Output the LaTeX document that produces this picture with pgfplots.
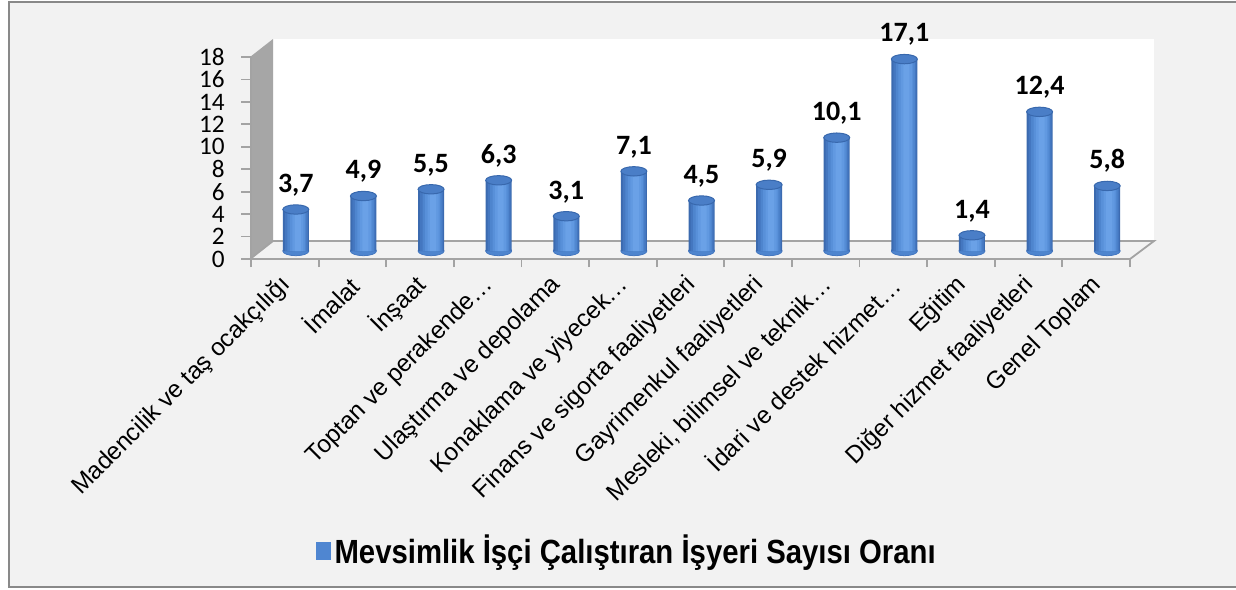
\documentclass[border=0pt]{standalone}
\usepackage{pgfplots}
\usepackage{pgfplotstable}
\pgfplotsset{compat=1.18}
\usepackage{fontspec}
\setmainfont{Liberation Sans}
\newfontfamily\calibri{Carlito}
\newfontfamily\legfont[FakeStretch=0.875]{Liberation Sans}
\definecolor{bg}{HTML}{F2F2F2}
\definecolor{frame}{HTML}{898989}
\definecolor{axgray}{HTML}{A3A3A3}
\definecolor{wallgray}{HTML}{A6A6A6}
\definecolor{cA}{HTML}{3B6AAF}
\definecolor{cB}{HTML}{4477C0}
\definecolor{cC}{HTML}{4E85CE}
\definecolor{cD}{HTML}{5890D9}
\definecolor{cE}{HTML}{6199E1}
\definecolor{cF}{HTML}{6AA1E7}
\definecolor{topfill}{HTML}{4A7EC7}
\definecolor{topedge}{HTML}{3868AD}
\definecolor{legblue}{HTML}{4F86D1}
\pgfplotstableread{
x v z
0 3.7 0
1 4.9 0
2 5.5 0
3 6.3 0
4 3.1 0
5 7.1 0
6 4.5 0
7 5.9 0
8 10.1 0
9 17.1 0
10 1.4 0
11 12.4 0
12 5.8 0
}\datatab
\pgfplotsset{barax/.style={
  scale only axis, width=439.5pt, height=101pt,
  xmin=-0.5, xmax=12.5, ymin=0, ymax=18,
  hide axis, clip=false}}
\begin{document}
\begin{tikzpicture}[x=0.5pt,y=-0.5pt]
\useasboundingbox (0,0) rectangle (1236,589);
\fill[white] (0,0) rectangle (1236,589);
\draw[frame, line width=1pt, fill=bg] (9,2) rectangle (1250,587);
% 3D walls
\fill[white] (273,39) rectangle (1154,241);
\fill[wallgray] (250,57) -- (273,39) -- (273,241) -- (250,260) -- cycle;
\draw[axgray, line width=0.9pt] (250,259) -- (273,241) -- (1154,241) -- (1130,259);
\coordinate (A) at (251,259);
\coordinate (B) at (262,251);
\begin{axis}[
  at={(A)}, anchor=south west,
  scale only axis, width=439.5pt, height=101pt,
  xmin=-0.5, xmax=12.5, ymin=0, ymax=18,
  axis x line*=bottom, axis y line*=left,
  axis line style={axgray, line width=0.9pt, -},
  ytick={0,2,...,18},
  xtick={0,...,12},
  xticklabels={Madencilik ve taş ocakçılığı, İmalat, İnşaat, Toptan ve perakende…, Ulaştırma ve depolama, Konaklama ve yiyecek…, Finans ve sigorta faaliyetleri, Gayrimenkul faaliyetleri, {Mesleki, bilimsel ve teknik…}, İdari ve destek hizmet…, Eğitim, Diğer hizmet faaliyetleri, Genel Toplam},
  minor xtick={-0.5,0.5,...,12.5},
  major x tick style={draw=none},
  minor x tick style={axgray, line width=0.9pt},
  y tick style={axgray, line width=0.9pt},
  tick align=outside,
  minor tick length=4pt,
  major tick length=5pt,
  /pgf/number format/assume math mode=true,
  yticklabel style={font=\calibri\fontsize{12.6}{13}\selectfont, anchor=east, inner sep=0pt, xshift=-8pt},
  xticklabel style={font=\fontsize{12.2}{13}\selectfont, xshift=1pt, yshift=-6pt, rotate=45, anchor=east, inner sep=0pt},
]
\end{axis}
% bottom rims of the cylinders
\begin{axis}[at={(B)}, anchor=south west, barax]
\addplot[color=cC, only marks, mark=*, mark size=6.5pt, mark options={yscale=0.36, fill=cC, draw=cB, line width=0.4pt}] table[x=x, y=z] {\datatab};
\end{axis}
% cylinder bodies, tops, labels, legend
\begin{axis}[
  at={(B)}, anchor=south west, barax,
  legend style={at={(0.416,-1.485)}, anchor=center, draw=none, fill=none,
     font=\legfont\bfseries\fontsize{16.75}{18}\selectfont, inner sep=0pt,
     /tikz/every even column/.append style={column sep=2pt}},
  legend image code/.code={\fill[legblue] (0pt,-4.5pt) rectangle (7.5pt,4.5pt);},
]
\addplot[ybar, bar width=13pt, bar shift=0pt, draw=none, fill=cA,
  nodes near coords,
  every node near coord/.append style={font=\calibri\bfseries\fontsize{14}{15}\selectfont, text=black, anchor=south, inner sep=0pt, yshift=6.5pt,
    /pgf/number format/.cd, fixed, precision=1, fixed zerofill, use comma, assume math mode=true}
] table[x=x, y=v] {\datatab};
\addlegendentry{Mevsimlik İşçi Çalıştıran İşyeri Sayısı Oranı}
\addplot[ybar, bar width=11.5pt, bar shift=0.25pt, draw=none, fill=cB, forget plot] table[x=x, y=v] {\datatab};
\addplot[ybar, bar width=9.5pt, bar shift=0.5pt, draw=none, fill=cC, forget plot] table[x=x, y=v] {\datatab};
\addplot[ybar, bar width=7.5pt, bar shift=0.75pt, draw=none, fill=cD, forget plot] table[x=x, y=v] {\datatab};
\addplot[ybar, bar width=5.5pt, bar shift=1pt, draw=none, fill=cE, forget plot] table[x=x, y=v] {\datatab};
\addplot[ybar, bar width=3pt, bar shift=1pt, draw=none, fill=cF, forget plot] table[x=x, y=v] {\datatab};
\addplot[color=topedge, only marks, mark=*, mark size=6.5pt, mark options={yscale=0.36, fill=topfill, draw=topedge, line width=0.5pt}, forget plot] table[x=x, y=v] {\datatab};
\end{axis}
\end{tikzpicture}
\end{document}
